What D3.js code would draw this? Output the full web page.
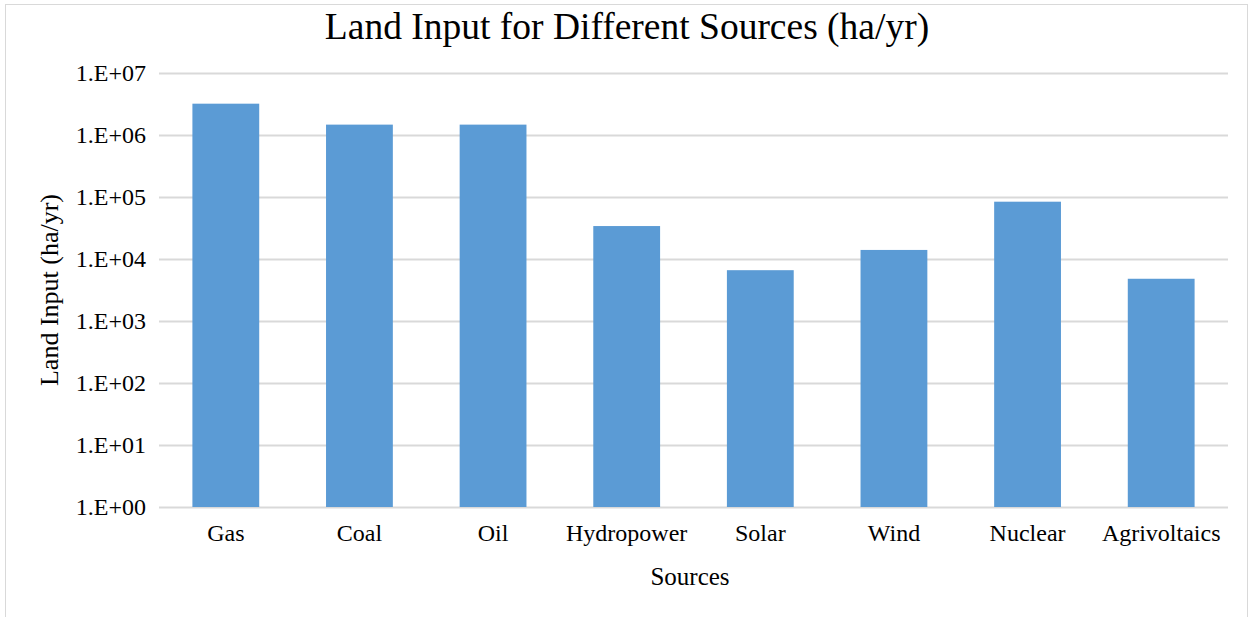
<!DOCTYPE html>
<html><head><meta charset="utf-8">
<script src="https://cdn.jsdelivr.net/npm/d3@7"></script>
<style>body{margin:0;background:#fff}text{font-family:"Liberation Serif","Times New Roman",serif;fill:#000}</style>
</head><body><svg id="c" width="1254" height="617"></svg>
<script>
const categories = ["Gas","Coal","Oil","Hydropower","Solar","Wind","Nuclear","Agrivoltaics"];
const values = [3200000,1470000,1470000,34000,6600,14000,84000,4800];
const tickValues = [1,10,100,1000,10000,100000,1000000,10000000];
const tickLabels = ["1.E+00","1.E+01","1.E+02","1.E+03","1.E+04","1.E+05","1.E+06","1.E+07"];
const title = "Land Input for Different Sources (ha/yr)";
const yTitle = "Land Input (ha/yr)";
const xTitle = "Sources";

const svg = d3.select("#c");
svg.append("rect").attr("x",5.5).attr("y",4.5).attr("width",1242).attr("height",640)
  .attr("fill","#fff").attr("stroke","#d9d9d9");

const x = d3.scaleBand().domain(categories).range([159,1228]).paddingInner(0.5).paddingOuter(0.25);
const y = d3.scaleLog().domain([1,1e7]).range([507,73]);

const grid = svg.append("g").attr("transform","translate(159,0)")
  .call(d3.axisLeft(y).tickValues(tickValues).tickSize(-1069).tickFormat(""));
grid.select(".domain").remove();
grid.selectAll("line").attr("stroke","#d9d9d9").attr("stroke-width",2);

svg.append("g").selectAll("rect").data(values).join("rect")
  .attr("x",(d,i)=>x(categories[i])).attr("width",x.bandwidth())
  .attr("y",d=>y(d)).attr("height",d=>y(1)-y(d)).attr("fill","#5b9bd5");

const ya = svg.append("g").attr("transform","translate(146,0)")
  .call(d3.axisLeft(y).tickValues(tickValues).tickSize(0).tickPadding(0).tickFormat((d,i)=>tickLabels[i]));
ya.select(".domain").remove();
ya.selectAll("text").attr("font-size",24).attr("font-family","Liberation Serif").attr("fill","#000").attr("dy","0.32em");

const xa = svg.append("g").attr("transform","translate(0,507)")
  .call(d3.axisBottom(x).tickSize(0).tickPadding(0));
xa.select(".domain").remove();
xa.selectAll("text").attr("font-size",24).attr("font-family","Liberation Serif").attr("fill","#000").attr("dy",34).attr("y",0);

svg.append("text").attr("x",627).attr("y",39).attr("text-anchor","middle").attr("font-size",37.5).text(title);
svg.append("text").attr("x",690).attr("y",585).attr("text-anchor","middle").attr("font-size",25).text(xTitle);
svg.append("text").attr("transform","translate(58,290) rotate(-90)").attr("text-anchor","middle").attr("font-size",26).text(yTitle);
</script></body></html>
